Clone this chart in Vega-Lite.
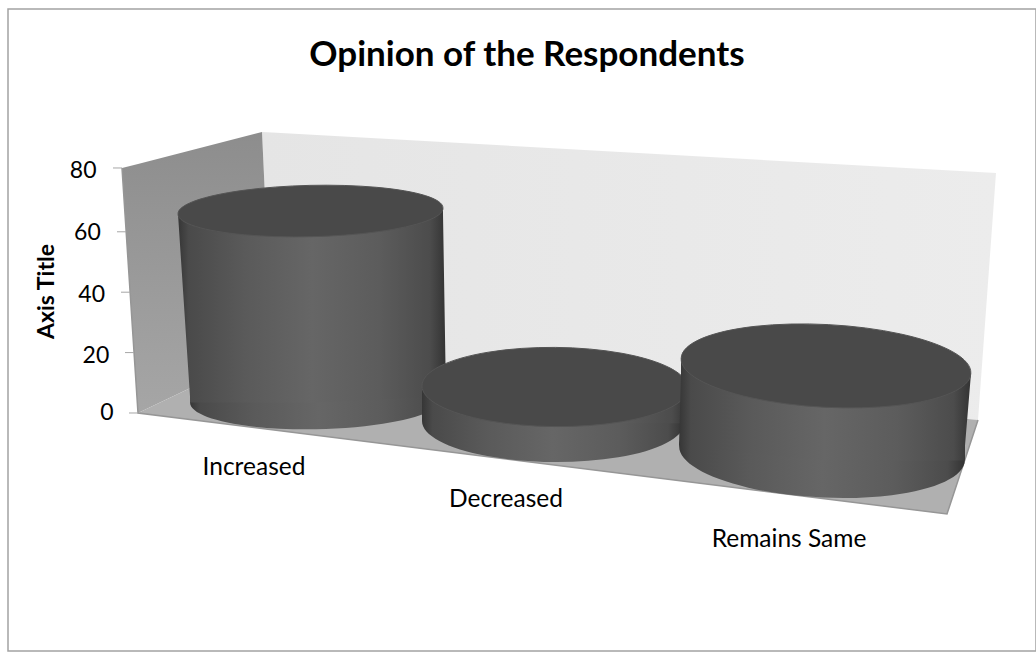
{
  "$schema": "https://vega.github.io/schema/vega-lite/v6.json",
  "width": 1028,
  "height": 642,
  "padding": {"left": 8, "top": 9, "right": 0, "bottom": 1},
  "autosize": "none",
  "background": "white",
  "title": {
    "text": "Opinion of the Respondents",
    "font": "Lato",
    "fontSize": 35,
    "fontWeight": "bold",
    "color": "#000000",
    "anchor": "middle",
    "frame": "group",
    "dx": 5,
    "offset": -64
  },
  "config": {
    "view": {"stroke": "#a3a3a3", "strokeWidth": 1.5},
    "font": "Lato"
  },
  "datasets": {
    "surfaces": [
      {"surface": "back wall", "x": 262, "upper": 93.05, "lower": 93.05},
      {"surface": "back wall", "x": 272, "upper": 92.85, "lower": 21.19},
      {"surface": "back wall", "x": 978, "upper": 79.8, "lower": -2.32},
      {"surface": "back wall", "x": 996, "upper": 79.47, "lower": 79.47},
      {"surface": "side wall", "x": 122, "upper": 81.13, "lower": 81.13},
      {"surface": "side wall", "x": 138, "upper": 82.48, "lower": 0},
      {"surface": "side wall", "x": 262, "upper": 93.05, "lower": 19.6},
      {"surface": "side wall", "x": 272, "upper": 21.19, "lower": 21.19},
      {"surface": "floor", "x": 138, "upper": 0, "lower": 0},
      {"surface": "floor", "x": 272, "upper": 21.19, "lower": -5.53},
      {"surface": "floor", "x": 947, "upper": -1.29, "lower": -33.44},
      {"surface": "floor", "x": 978, "upper": -2.32, "lower": -2.32}
    ],
    "edges": [
      {"x": 122, "level": 81.13},
      {"x": 138, "level": 0},
      {"x": 947, "level": -33.44},
      {"x": 978, "level": -2.32}
    ],
    "ticks": [
      {"tick": 0},
      {"tick": 20},
      {"tick": 40},
      {"tick": 60},
      {"tick": 80}
    ],
    "opinions": [
      {"category": "Increased", "value": 64},
      {"category": "Decreased", "value": 12},
      {"category": "Remains Same", "value": 28}
    ]
  },
  "layer": [
    {
      "data": {"name": "surfaces"},
      "transform": [{"filter": "datum.surface === 'back wall'"}],
      "mark": {"type": "area", "fill": {"gradient": "linear", "x1": 0, "x2": 1, "y1": 0, "y2": 0, "stops": [{"offset": 0, "color": "#e5e5e5"}, {"offset": 1, "color": "#ececec"}]}},
      "encoding": {
        "x": {"field": "x", "type": "quantitative", "axis": null, "scale": {"domain": [8, 1036]}},
        "y": {"field": "upper", "type": "quantitative", "scale": {"domain": [-78.81, 133.77]}, "axis": {
          "values": [0, 20, 40, 60, 80],
          "title": "Axis Title",
          "titleFont": "Lato",
          "titleFontSize": 23,
          "titleFontWeight": "bold",
          "titleColor": "#000000",
          "titleAngle": -90,
          "titleAlign": "center",
          "titleBaseline": "middle",
          "titleX": -92,
          "titleY": 282,
          "offset": -130,
          "domain": false,
          "ticks": false,
          "tickSize": 0,
          "grid": false,
          "labelFont": "Lato",
          "labelFontSize": 23,
          "labelColor": "#000000",
          "labelPadding": {"expr": "25 + datum.value * 0.2125"},
          "labelOffset": {"expr": "datum.value === 80 ? -0.7 : datum.value === 60 ? 1.2 : datum.value === 40 ? 2.8 : datum.value === 20 ? 3.4 : 0"}
        }},
        "y2": {"field": "lower"}
      }
    },
    {
      "data": {"name": "surfaces"},
      "transform": [{"filter": "datum.surface === 'side wall'"}],
      "mark": {"type": "area", "fill": {"gradient": "linear", "x1": 0, "x2": 0, "y1": 0, "y2": 1, "stops": [{"offset": 0, "color": "#8d8d8d"}, {"offset": 1, "color": "#a6a6a6"}]}},
      "encoding": {
        "x": {"field": "x", "type": "quantitative", "axis": null, "scale": {"domain": [8, 1036]}},
        "y": {"field": "upper", "type": "quantitative", "scale": {"domain": [-78.81, 133.77]}},
        "y2": {"field": "lower"}
      }
    },
    {
      "data": {"name": "surfaces"},
      "transform": [{"filter": "datum.surface === 'floor'"}],
      "mark": {"type": "area", "fill": "#b0b0b0"},
      "encoding": {
        "x": {"field": "x", "type": "quantitative", "axis": null, "scale": {"domain": [8, 1036]}},
        "y": {"field": "upper", "type": "quantitative", "scale": {"domain": [-78.81, 133.77]}},
        "y2": {"field": "lower"}
      }
    },
    {
      "data": {"name": "edges"},
      "mark": {"type": "line", "stroke": "#969696", "strokeWidth": 1.5},
      "encoding": {
        "x": {"field": "x", "type": "quantitative", "axis": null, "scale": {"domain": [8, 1036]}},
        "y": {"field": "level", "type": "quantitative", "scale": {"domain": [-78.81, 133.77]}}
      }
    },
    {
      "data": {"name": "ticks"},
      "transform": [
        {"calculate": "138 - datum.tick * 0.2", "as": "tickEnd"},
        {"calculate": "datum.tickEnd - 9", "as": "tickStart"},
        {"calculate": "datum.tick + (datum.tick === 80 ? 1.13 : 0)", "as": "tickLevel"}
      ],
      "mark": {"type": "rule", "stroke": "#a6a6a6", "strokeWidth": 1},
      "encoding": {
        "x": {"field": "tickStart", "type": "quantitative", "axis": null, "scale": {"domain": [8, 1036]}},
        "x2": {"field": "tickEnd"},
        "y": {"field": "tickLevel", "type": "quantitative", "scale": {"domain": [-78.81, 133.77]}}
      }
    },
    {
      "data": {"name": "opinions"},
      "transform": [
        {"calculate": "{'Increased': 4.47, 'Decreased': -2.98, 'Remains Same': -13.25}[datum.category]", "as": "baseLevel"},
        {"calculate": "{'Increased': 0.975, 'Decreased': 0.966, 'Remains Same': 1.03}[datum.category]", "as": "unitHeight"},
        {"calculate": "datum.baseLevel + datum.value * datum.unitHeight", "as": "topLevel"},
        {"calculate": "{'Increased': 310.5, 'Decreased': 555, 'Remains Same': 826}[datum.category]", "as": "topCentre"},
        {"calculate": "{'Increased': 318, 'Decreased': 553, 'Remains Same': 822}[datum.category]", "as": "baseCentre"},
        {"calculate": "{'Increased': 132.5, 'Decreased': 133, 'Remains Same': 145}[datum.category]", "as": "topHalf"},
        {"calculate": "{'Increased': 128, 'Decreased': 131, 'Remains Same': 143}[datum.category]", "as": "baseHalf"},
        {"calculate": "{'Increased': -1, 'Decreased': 0.38, 'Remains Same': 2.5}[datum.category]", "as": "tilt"},
        {"calculate": "datum.topLevel + abs(datum.tilt)", "as": "topHigh"},
        {"calculate": "datum.topLevel - abs(datum.tilt)", "as": "topLow"},
        {"calculate": "datum.baseLevel + abs(datum.tilt)", "as": "baseHigh"},
        {"calculate": "datum.baseLevel - abs(datum.tilt)", "as": "baseLow"},
        {"calculate": "datum.topCentre - datum.topHalf", "as": "topLeft"},
        {"calculate": "datum.topCentre + datum.topHalf", "as": "topRight"},
        {"calculate": "datum.baseCentre - datum.baseHalf", "as": "baseLeft"},
        {"calculate": "datum.baseCentre + datum.baseHalf", "as": "baseRight"},
        {"calculate": "{'Increased': 254, 'Decreased': 506, 'Remains Same': 789}[datum.category]", "as": "labelCentre"},
        {"calculate": "{'Increased': -18.2, 'Decreased': -28.8, 'Remains Same': -42.05}[datum.category]", "as": "labelLevel"}
      ],
      "layer": [
        {
          "transform": [{"filter": "datum.category === 'Increased'"}],
          "layer": [
            {
              "mark": {"type": "point", "filled": true, "opacity": 1, "shape": "M-0.9997,0.0227A1,0.23 -1.3 1,1 0.9997,-0.0227A1,0.23 -1.3 1,1 -0.9997,0.0227Z", "size": 65536, "fill": {"gradient": "linear", "x1": 0, "x2": 1, "y1": 0, "y2": 0, "stops": [{"offset": 0, "color": "#363636"}, {"offset": 0.04, "color": "#4a4a4a"}, {"offset": 0.25, "color": "#5a5a5a"}, {"offset": 0.5, "color": "#666666"}, {"offset": 0.75, "color": "#5c5c5c"}, {"offset": 0.94, "color": "#4c4c4c"}, {"offset": 1, "color": "#333333"}]}},
              "encoding": {
                "x": {"field": "baseCentre", "type": "quantitative", "axis": null, "scale": {"domain": [8, 1036]}},
                "y": {"field": "baseLevel", "type": "quantitative", "scale": {"domain": [-78.81, 133.77]}}
              }
            },
            {
              "transform": [
                {"fold": ["topHigh", "topLow", "baseHigh", "baseLow"], "as": ["edge", "level"]},
                {"calculate": "datum.edge === 'topHigh' ? (datum.tilt > 0 ? datum.topLeft : datum.topCentre) : datum.edge === 'topLow' ? datum.topLeft : datum.edge === 'baseHigh' ? datum.baseLeft : (datum.tilt > 0 ? datum.baseCentre : datum.baseLeft)", "as": "leftSide"},
                {"calculate": "datum.edge === 'topHigh' ? (datum.tilt > 0 ? datum.topCentre : datum.topRight) : datum.edge === 'topLow' ? datum.topRight : datum.edge === 'baseHigh' ? datum.baseRight : (datum.tilt > 0 ? datum.baseRight : datum.baseCentre)", "as": "rightSide"}
              ],
              "mark": {"type": "area", "orient": "horizontal", "fill": {"gradient": "linear", "x1": 0, "x2": 1, "y1": 0, "y2": 0, "stops": [{"offset": 0, "color": "#363636"}, {"offset": 0.04, "color": "#4a4a4a"}, {"offset": 0.25, "color": "#5a5a5a"}, {"offset": 0.5, "color": "#666666"}, {"offset": 0.75, "color": "#5c5c5c"}, {"offset": 0.94, "color": "#4c4c4c"}, {"offset": 1, "color": "#333333"}]}},
              "encoding": {
                "y": {"field": "level", "type": "quantitative", "scale": {"domain": [-78.81, 133.77]}},
                "x": {"field": "leftSide", "type": "quantitative", "axis": null, "scale": {"domain": [8, 1036]}},
                "x2": {"field": "rightSide"}
              }
            },
            {
              "mark": {"type": "point", "filled": true, "opacity": 1, "fill": "#494949", "stroke": "#555555", "strokeWidth": 1, "shape": "M-0.9997,0.0227A1,0.192 -1.3 1,1 0.9997,-0.0227A1,0.192 -1.3 1,1 -0.9997,0.0227Z", "size": 70225},
              "encoding": {
                "x": {"field": "topCentre", "type": "quantitative", "axis": null, "scale": {"domain": [8, 1036]}},
                "y": {"field": "topLevel", "type": "quantitative", "scale": {"domain": [-78.81, 133.77]}}
              }
            }
          ]
        },
        {
          "transform": [{"filter": "datum.category === 'Decreased'"}],
          "layer": [
            {
              "mark": {"type": "point", "filled": true, "opacity": 1, "shape": "M-0.99996,-0.0087A1,0.305 0.5 1,1 0.99996,0.0087A1,0.305 0.5 1,1 -0.99996,-0.0087Z", "size": 68644, "fill": {"gradient": "linear", "x1": 0, "x2": 1, "y1": 0, "y2": 0, "stops": [{"offset": 0, "color": "#363636"}, {"offset": 0.04, "color": "#4a4a4a"}, {"offset": 0.25, "color": "#5a5a5a"}, {"offset": 0.5, "color": "#666666"}, {"offset": 0.75, "color": "#5c5c5c"}, {"offset": 0.94, "color": "#4c4c4c"}, {"offset": 1, "color": "#333333"}]}},
              "encoding": {
                "x": {"field": "baseCentre", "type": "quantitative", "axis": null, "scale": {"domain": [8, 1036]}},
                "y": {"field": "baseLevel", "type": "quantitative", "scale": {"domain": [-78.81, 133.77]}}
              }
            },
            {
              "transform": [
                {"fold": ["topHigh", "topLow", "baseHigh", "baseLow"], "as": ["edge", "level"]},
                {"calculate": "datum.edge === 'topHigh' ? (datum.tilt > 0 ? datum.topLeft : datum.topCentre) : datum.edge === 'topLow' ? datum.topLeft : datum.edge === 'baseHigh' ? datum.baseLeft : (datum.tilt > 0 ? datum.baseCentre : datum.baseLeft)", "as": "leftSide"},
                {"calculate": "datum.edge === 'topHigh' ? (datum.tilt > 0 ? datum.topCentre : datum.topRight) : datum.edge === 'topLow' ? datum.topRight : datum.edge === 'baseHigh' ? datum.baseRight : (datum.tilt > 0 ? datum.baseRight : datum.baseCentre)", "as": "rightSide"}
              ],
              "mark": {"type": "area", "orient": "horizontal", "fill": {"gradient": "linear", "x1": 0, "x2": 1, "y1": 0, "y2": 0, "stops": [{"offset": 0, "color": "#363636"}, {"offset": 0.04, "color": "#4a4a4a"}, {"offset": 0.25, "color": "#5a5a5a"}, {"offset": 0.5, "color": "#666666"}, {"offset": 0.75, "color": "#5c5c5c"}, {"offset": 0.94, "color": "#4c4c4c"}, {"offset": 1, "color": "#333333"}]}},
              "encoding": {
                "y": {"field": "level", "type": "quantitative", "scale": {"domain": [-78.81, 133.77]}},
                "x": {"field": "leftSide", "type": "quantitative", "axis": null, "scale": {"domain": [8, 1036]}},
                "x2": {"field": "rightSide"}
              }
            },
            {
              "mark": {"type": "point", "filled": true, "opacity": 1, "fill": "#494949", "stroke": "#555555", "strokeWidth": 1, "shape": "M-0.99996,-0.0087A1,0.297 0.5 1,1 0.99996,0.0087A1,0.297 0.5 1,1 -0.99996,-0.0087Z", "size": 70756},
              "encoding": {
                "x": {"field": "topCentre", "type": "quantitative", "axis": null, "scale": {"domain": [8, 1036]}},
                "y": {"field": "topLevel", "type": "quantitative", "scale": {"domain": [-78.81, 133.77]}}
              }
            }
          ]
        },
        {
          "transform": [{"filter": "datum.category === 'Remains Same'"}],
          "layer": [
            {
              "mark": {"type": "point", "filled": true, "opacity": 1, "shape": "M-0.9986,-0.0523A1,0.308 3 1,1 0.9986,0.0523A1,0.308 3 1,1 -0.9986,-0.0523Z", "size": 81796, "fill": {"gradient": "linear", "x1": 0, "x2": 1, "y1": 0, "y2": 0, "stops": [{"offset": 0, "color": "#363636"}, {"offset": 0.04, "color": "#4a4a4a"}, {"offset": 0.25, "color": "#5a5a5a"}, {"offset": 0.5, "color": "#666666"}, {"offset": 0.75, "color": "#5c5c5c"}, {"offset": 0.94, "color": "#4c4c4c"}, {"offset": 1, "color": "#333333"}]}},
              "encoding": {
                "x": {"field": "baseCentre", "type": "quantitative", "axis": null, "scale": {"domain": [8, 1036]}},
                "y": {"field": "baseLevel", "type": "quantitative", "scale": {"domain": [-78.81, 133.77]}}
              }
            },
            {
              "transform": [
                {"fold": ["topHigh", "topLow", "baseHigh", "baseLow"], "as": ["edge", "level"]},
                {"calculate": "datum.edge === 'topHigh' ? (datum.tilt > 0 ? datum.topLeft : datum.topCentre) : datum.edge === 'topLow' ? datum.topLeft : datum.edge === 'baseHigh' ? datum.baseLeft : (datum.tilt > 0 ? datum.baseCentre : datum.baseLeft)", "as": "leftSide"},
                {"calculate": "datum.edge === 'topHigh' ? (datum.tilt > 0 ? datum.topCentre : datum.topRight) : datum.edge === 'topLow' ? datum.topRight : datum.edge === 'baseHigh' ? datum.baseRight : (datum.tilt > 0 ? datum.baseRight : datum.baseCentre)", "as": "rightSide"}
              ],
              "mark": {"type": "area", "orient": "horizontal", "fill": {"gradient": "linear", "x1": 0, "x2": 1, "y1": 0, "y2": 0, "stops": [{"offset": 0, "color": "#363636"}, {"offset": 0.04, "color": "#4a4a4a"}, {"offset": 0.25, "color": "#5a5a5a"}, {"offset": 0.5, "color": "#666666"}, {"offset": 0.75, "color": "#5c5c5c"}, {"offset": 0.94, "color": "#4c4c4c"}, {"offset": 1, "color": "#333333"}]}},
              "encoding": {
                "y": {"field": "level", "type": "quantitative", "scale": {"domain": [-78.81, 133.77]}},
                "x": {"field": "leftSide", "type": "quantitative", "axis": null, "scale": {"domain": [8, 1036]}},
                "x2": {"field": "rightSide"}
              }
            },
            {
              "mark": {"type": "point", "filled": true, "opacity": 1, "fill": "#494949", "stroke": "#555555", "strokeWidth": 1, "shape": "M-0.9986,-0.0523A1,0.283 3 1,1 0.9986,0.0523A1,0.283 3 1,1 -0.9986,-0.0523Z", "size": 84100},
              "encoding": {
                "x": {"field": "topCentre", "type": "quantitative", "axis": null, "scale": {"domain": [8, 1036]}},
                "y": {"field": "topLevel", "type": "quantitative", "scale": {"domain": [-78.81, 133.77]}}
              }
            }
          ]
        },
        {
          "mark": {"type": "text", "font": "Lato", "fontSize": 24.5, "color": "#000000", "align": "center", "baseline": "middle"},
          "encoding": {
            "x": {"field": "labelCentre", "type": "quantitative", "axis": null, "scale": {"domain": [8, 1036]}},
            "y": {"field": "labelLevel", "type": "quantitative", "scale": {"domain": [-78.81, 133.77]}},
            "text": {"field": "category", "type": "nominal"}
          }
        }
      ]
    }
  ]
}
